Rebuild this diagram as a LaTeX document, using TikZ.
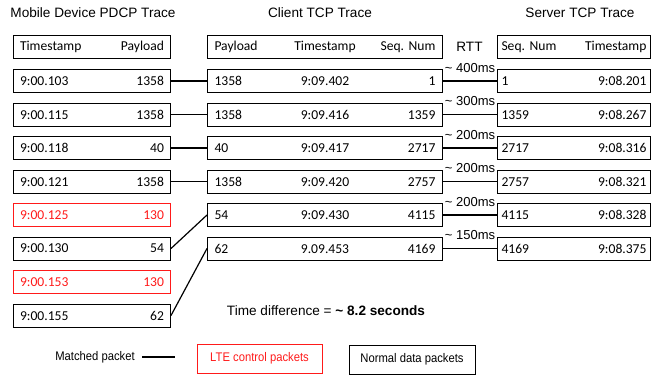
\documentclass[tikz,border=0pt]{standalone}
\usepackage{fontspec}
\usepackage{graphicx}
\setmainfont{Liberation Sans}
\newfontfamily\cellfont{Carlito}
\definecolor{ctrlred}{HTML}{FF1A1A}
\frenchspacing
% legend labels are set in a slightly narrowed sans
\newcommand{\narrowtext}[1]{\scalebox{0.9}[1]{#1}}
\begin{document}
\begin{tikzpicture}[x=1pt,y=-1pt,
  head/.style={font=\fontsize{13.6}{16}\selectfont, inner sep=0pt},
  cell/.style={draw, line width=1pt, minimum height=23pt, inner ysep=0pt,
    anchor=west, font=\cellfont\fontsize{13.6}{16}\selectfont},
  pdcp/.style={cell, text width=144pt, inner xsep=6.5pt},
  client/.style={cell, text width=221pt, inner xsep=7pt},
  server/.style={cell, text width=145pt, inner xsep=4pt},
  ctrl/.style={draw=ctrlred, text=ctrlred},
  link/.style={line width=1.2pt},
  rtt/.style={midway, yshift=13pt, inner sep=0pt, font=\fontsize{13}{15}\selectfont},
  legendtext/.style={font=\fontsize{12.5}{14}\selectfont, inner sep=0pt},
  legendbox/.style={draw, line width=1pt, minimum width=125pt, minimum height=29pt,
    inner sep=0pt, font=\fontsize{12.5}{14}\selectfont}]
\useasboundingbox (0,0) rectangle (651,376);

% column titles
\node[head] (tp) at (93,13) {Mobile Device PDCP Trace};
\node[head] (tc) at (320,13) {Client TCP Trace};
\node[head] (ts) at (580,13) {Server TCP Trace};
\node[head] (trtt) at (469.5,47) {RTT};

% mobile device PDCP trace
\node[pdcp] (ph) at (13,46.5)  {Timestamp\hfill Payload};
\node[pdcp] (p1) at (13,81)    {9:00.103\hfill 1358};
\node[pdcp] (p2) at (13,114.5) {9:00.115\hfill 1358};
\node[pdcp] (p3) at (13,148)   {9:00.118\hfill 40};
\node[pdcp] (p4) at (13,181.5) {9:00.121\hfill 1358};
\node[pdcp,ctrl] (p5) at (13,215) {9:00.125\hfill 130};
\node[pdcp] (p6) at (13,248.5) {9:00.130\hfill 54};
\node[pdcp,ctrl] (p7) at (13,282) {9:00.153\hfill 130};
\node[pdcp] (p8) at (13,315.5) {9:00.155\hfill 62};

% client TCP trace
\node[client] (ch) at (207,46.5)  {\rlap{Payload}\hfill Timestamp\hfill\llap{Seq. Num}};
\node[client] (c1) at (207,81)    {\rlap{1358}\hfill 9:09.402\hfill\llap{1}};
\node[client] (c2) at (207,114.5) {\rlap{1358}\hfill 9:09.416\hfill\llap{1359}};
\node[client] (c3) at (207,148)   {\rlap{40}\hfill 9:09.417\hfill\llap{2717}};
\node[client] (c4) at (207,181.5) {\rlap{1358}\hfill 9:09.420\hfill\llap{2757}};
\node[client] (c5) at (207,215)   {\rlap{54}\hfill 9:09.430\hfill\llap{4115}};
\node[client] (c6) at (207,248.5) {\rlap{62}\hfill 9.09.453\hfill\llap{4169}};

% server TCP trace
\node[server] (sh) at (497,46.5)  {Seq. Num\hfill Timestamp};
\node[server] (s1) at (497,81)    {1\hfill 9:08.201};
\node[server] (s2) at (497,114.5) {1359\hfill 9:08.267};
\node[server] (s3) at (497,148)   {2717\hfill 9:08.316};
\node[server] (s4) at (497,181.5) {2757\hfill 9:08.321};
\node[server] (s5) at (497,215)   {4115\hfill 9:08.328};
\node[server] (s6) at (497,248.5) {4169\hfill 9:08.375};

% PDCP packets matched to client packets
\draw[link] (p1.east) -- (c1.west);
\draw[link] (p2.east) -- (c2.west);
\draw[link] (p3.east) -- (c3.west);
\draw[link] (p4.east) -- (c4.west);
\draw[link] (p6.east) -- (c5.west);
\draw[link] (p8.east) -- (c6.west);

% client packets matched to server packets, with round-trip times
\draw[link] (c1.east) -- node[rtt] (r1) {\textasciitilde\ 400ms} (s1.west);
\draw[link] (c2.east) -- node[rtt] (r2) {\textasciitilde\ 300ms} (s2.west);
\draw[link] (c3.east) -- node[rtt] (r3) {\textasciitilde\ 200ms} (s3.west);
\draw[link] (c4.east) -- node[rtt] (r4) {\textasciitilde\ 200ms} (s4.west);
\draw[link] (c5.east) -- node[rtt] (r5) {\textasciitilde\ 200ms} (s5.west);
\draw[link] (c6.east) -- node[rtt] (r6) {\textasciitilde\ 150ms} (s6.west);

\node[head] (tdiff) at (326,311) {Time difference = \textbf{\textasciitilde\ 8.2 seconds}};

% legend
\node[legendtext] (lm) at (95,357) {\narrowtext{Matched packet}};
\coordinate (la) at (142,357);
\coordinate (lb) at (175,357);
\draw[link] (la) -- (lb);
\node[legendbox,ctrl] (lctrl) at (259.5,358.5) {\narrowtext{LTE control packets}};
\node[legendbox,minimum width=126pt] (ldata) at (412,359.5) {\narrowtext{Normal data packets}};
\end{tikzpicture}
\end{document}
